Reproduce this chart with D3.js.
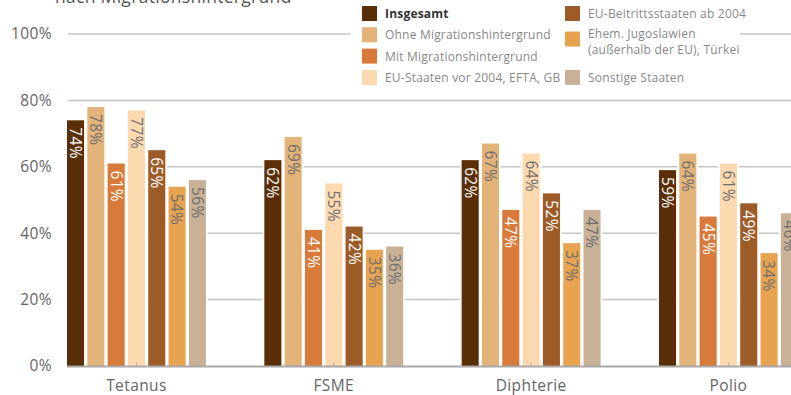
<!DOCTYPE html>
<html>
<head>
<meta charset="utf-8">
<script src="https://cdn.jsdelivr.net/npm/d3@7"></script>
<style>
  html, body { margin: 0; padding: 0; background: #fff; }
  svg { display: block; font-family: "Open Sans", sans-serif; }
</style>
</head>
<body>
<div id="chart"></div>
<script>
// Vaccination coverage by migration background
const categories = ["Tetanus", "FSME", "Diphterie", "Polio"];
const seriesNames = [
  "Insgesamt",
  "Ohne Migrationshintergrund",
  "Mit Migrationshintergrund",
  "EU-Staaten vor 2004, EFTA, GB",
  "EU-Beitrittsstaaten ab 2004",
  "Ehem. Jugoslawien (außerhalb der EU), Türkei",
  "Sonstige Staaten"
];
const insgesamt   = [74, 62, 62, 59];
const ohneMigr    = [78, 69, 67, 64];
const mitMigr     = [61, 41, 47, 45];
const euVor2004   = [77, 55, 64, 61];
const euAb2004    = [65, 42, 52, 49];
const jugoTuerkei = [54, 35, 37, 34];
const sonstige    = [56, 36, 47, 46];
const seriesValues = [insgesamt, ohneMigr, mitMigr, euVor2004, euAb2004, jugoTuerkei, sonstige];
const yTicks = [0, 20, 40, 60, 80, 100];

const colors = ["#5a2e07", "#e3b479", "#d77a3a", "#fdd9b0", "#9d5b27", "#e7a34f", "#c8b196"];
const labelColors = ["#ffffff", "#6e6e6e", "#ffffff", "#6e6e6e", "#ffffff", "#6e6e6e", "#6e6e6e"];

const W = 791, H = 395;
const svg = d3.select("#chart").append("svg").attr("width", W).attr("height", H);

const y = d3.scaleLinear().domain([0, 100]).range([366, 34]);
const x0 = d3.scaleBand().domain(categories).range([37.8, 827.1])
  .paddingInner(0.296).paddingOuter(0.148);
const x1 = d3.scaleBand().domain(d3.range(seriesNames.length)).range([0, x0.bandwidth()])
  .paddingInner(0.16).paddingOuter(0);
const gap = x1.step() - x1.bandwidth();

// title (partly above the visible area)
svg.append("text").attr("x", 55).attr("y", 3)
  .attr("font-size", 17.5).attr("fill", "#555").attr("letter-spacing", 0.3)
  .text("nach Migrationshintergrund");

// gridlines
svg.append("g").selectAll("line").data(yTicks.filter(d => d > 0)).join("line")
  .attr("x1", 68).attr("x2", W)
  .attr("y1", d => y(d)).attr("y2", d => y(d))
  .attr("stroke", "#c6c6c6").attr("stroke-width", 1.5);

// y tick labels
svg.append("g").selectAll("text").data(yTicks).join("text")
  .attr("x", 52).attr("y", d => y(d)).attr("dy", "0.35em")
  .attr("text-anchor", "end").attr("font-size", 15.5).attr("letter-spacing", 0.4).attr("fill", "#666")
  .text(d => d + "%");

// bars
const groups = svg.append("g").selectAll("g").data(categories).join("g")
  .attr("transform", c => `translate(${x0(c)},0)`);
const barData = (c, ci) => seriesValues.map((vals, si) => ({ si, v: vals[ci] }));

// white gutters between bars keep the gridlines out of the gaps
groups.selectAll("rect.gutter").data(barData).join("rect").attr("class", "gutter")
  .attr("x", d => x1(d.si) - gap / 2).attr("width", x1.step())
  .attr("y", d => y(d.v)).attr("height", d => y(0) - y(d.v))
  .attr("fill", "#fff");

groups.selectAll("rect.bar").data(barData).join("rect").attr("class", "bar")
  .attr("x", d => x1(d.si)).attr("width", x1.bandwidth())
  .attr("y", d => y(d.v)).attr("height", d => y(0) - y(d.v))
  .attr("fill", d => colors[d.si]);

// baseline
svg.append("line").attr("x1", 67).attr("x2", W).attr("y1", 366.5).attr("y2", 366.5)
  .attr("stroke", "#a8a8a8").attr("stroke-width", 2);

// small ticks at category centers
svg.append("g").selectAll("line").data(categories).join("line")
  .attr("x1", c => x0(c) + x0.bandwidth() / 2).attr("x2", c => x0(c) + x0.bandwidth() / 2)
  .attr("y1", 363).attr("y2", 367).attr("stroke", "#a8a8a8").attr("stroke-width", 1);

// value labels, rotated inside the top of each bar
groups.selectAll("text.val").data(barData)
  .join("text").attr("class", "val")
  .attr("transform", d => `translate(${x1(d.si) + x1.bandwidth() / 2},${y(d.v) + 7}) rotate(90)`)
  .attr("dy", "0.36em")
  .attr("font-size", 15.5).attr("letter-spacing", 0.3).attr("fill", d => labelColors[d.si])
  .text(d => d.v + "%");

// category labels
svg.append("g").selectAll("text").data(categories).join("text")
  .attr("x", c => x0(c) + x0.bandwidth() / 2).attr("y", 391)
  .attr("text-anchor", "middle").attr("font-size", 15.5).attr("letter-spacing", 0.4).attr("fill", "#666")
  .text(c => c);

// legend
const legend = svg.append("g");
legend.append("rect").attr("x", 351).attr("y", 0).attr("width", 389).attr("height", 90).attr("fill", "#fff");
const legendItems = [
  { si: 0, col: 0, row: 0, lines: ["Insgesamt"] },
  { si: 1, col: 0, row: 1, lines: ["Ohne Migrationshintergrund"] },
  { si: 2, col: 0, row: 2, lines: ["Mit Migrationshintergrund"] },
  { si: 3, col: 0, row: 3, lines: ["EU-Staaten vor 2004, EFTA, GB"] },
  { si: 4, col: 1, row: 0, lines: ["EU-Beitrittsstaaten ab 2004"] },
  { si: 5, col: 1, row: 1.2, lines: ["Ehem. Jugoslawien", "(außerhalb der EU), Türkei"] },
  { si: 6, col: 1, row: 3, lines: ["Sonstige Staaten"] }
];
const li = legend.selectAll("g").data(legendItems).join("g")
  .attr("transform", d => `translate(${d.col ? 565 : 362},${6 + d.row * 21.3})`);
li.append("rect").attr("width", 15).attr("height", 15).attr("fill", d => colors[d.si]);
li.append("text").attr("x", 23).attr("y", d => d.lines.length > 1 ? 6 : 12)
  .attr("font-size", 12).attr("letter-spacing", 0.2)
  .attr("font-weight", d => d.si === 0 ? "bold" : "normal")
  .attr("fill", d => d.si === 0 ? "#333" : "#888")
  .selectAll("tspan").data(d => d.lines).join("tspan")
  .attr("x", 23).attr("dy", (t, i) => i ? 16 : 0)
  .text(t => t);
</script>
</body>
</html>
